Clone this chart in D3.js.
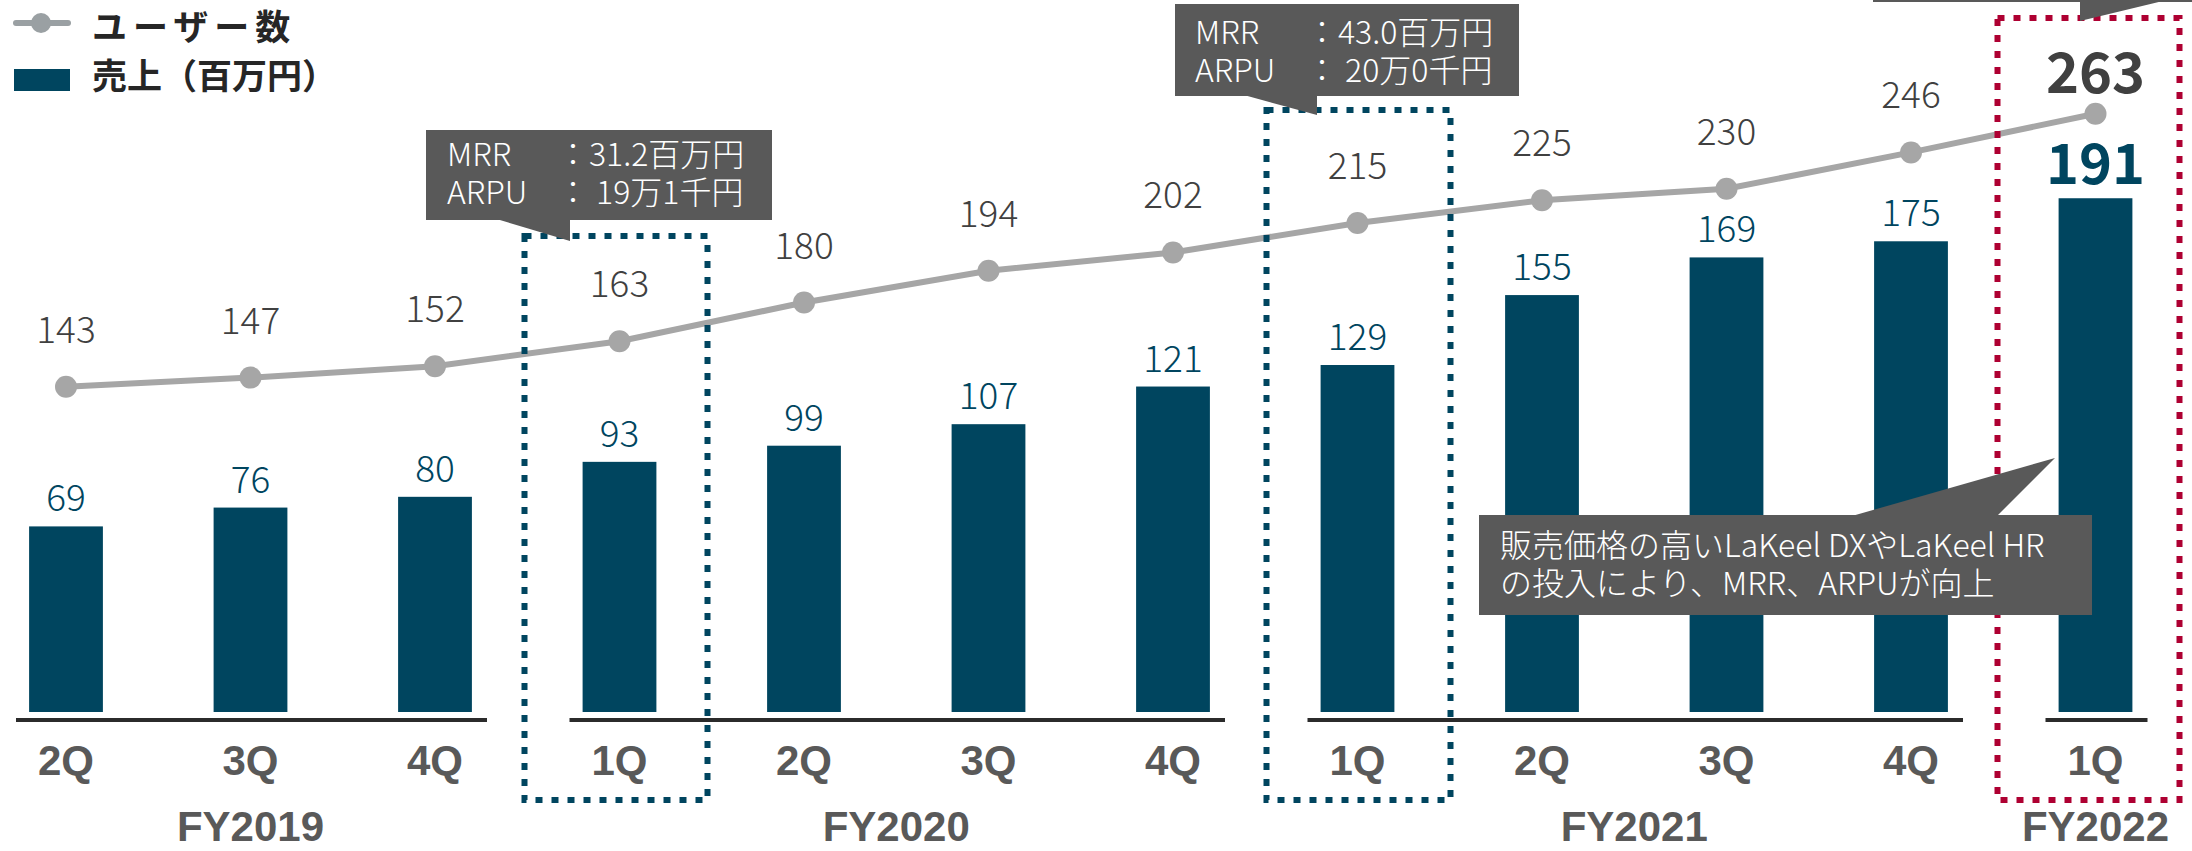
<!DOCTYPE html>
<meta charset="utf-8">
<style>
body { margin: 0; background: #fff; }
svg { display: block; }
.num { font-family: "Noto Sans CJK JP", "Noto Sans", sans-serif; font-weight: 300; }
.tick { font-family: "Liberation Sans Narrow", "Liberation Sans", sans-serif; font-weight: bold; fill: #595959; font-size: 42px; }
.legend { font-family: "Noto Sans CJK JP", sans-serif; font-weight: bold; fill: #262626; font-size: 35px; }
.note { font-family: "Noto Sans CJK JP", sans-serif; font-weight: 300; fill: #fff; font-size: 32px; white-space: pre; }
</style>
<svg width="2192" height="851"></svg>
<script src="https://d3js.org/d3.v7.min.js"></script>
<script>

var quarters = ["2Q","3Q","4Q","1Q","2Q","3Q","4Q","1Q","2Q","3Q","4Q","1Q"];
var fiscal   = ["FY2019","FY2019","FY2019","FY2020","FY2020","FY2020","FY2020","FY2021","FY2021","FY2021","FY2021","FY2022"];
var years    = ["FY2019","FY2020","FY2021","FY2022"];
var users    = [143,147,152,163,180,194,202,215,225,230,246,263];
var sales    = [69,76,80,93,99,107,121,129,155,169,175,191];

var note1 = [["MRR","：31.2百万円"],["ARPU","： 19万1千円"]];
var note2 = [["MRR","：43.0百万円"],["ARPU","： 20万0千円"]];
var note3 = ["販売価格の高いLaKeel DXやLaKeel HR","の投入により、MRR、ARPUが向上"];

var barColor = "#00455f",
    lineColor = "#a6a6a6",
    boxBlue = "#00455f",
    boxRed = "#ae0032",
    noteFill = "#595959";

var svg = d3.select("svg");

var keys = quarters.map(function(q,i){ return fiscal[i] + " " + q; });
var last = keys.length - 1;

var x = d3.scaleBand().domain(keys)
    .range([-26.25, 2187.75])
    .paddingInner(0.6)
    .paddingOuter(0.3);
var ySales = d3.scaleLinear().domain([0, 264.7]).range([712, 0]);
var yUsers = d3.scaleLinear().domain([0, 313]).range([712, 0]);

function cx(i) { return x(keys[i]) + x.bandwidth()/2; }

// bars
svg.append("g").selectAll("rect")
    .data(sales).enter().append("rect")
    .attr("x", function(d,i){ return x(keys[i]); })
    .attr("y", function(d){ return ySales(d); })
    .attr("width", x.bandwidth())
    .attr("height", function(d){ return ySales(0) - ySales(d); })
    .attr("fill", barColor);

svg.append("g").selectAll("text")
    .data(sales).enter().append("text")
    .attr("class", "num")
    .attr("text-anchor", "middle")
    .attr("x", function(d,i){ return cx(i); })
    .attr("y", function(d,i){ return ySales(d) - (i == last ? 14 : 15); })
    .attr("fill", barColor)
    .style("font-size", function(d,i){ return i == last ? "56px" : "37px"; })
    .style("font-weight", function(d,i){ return i == last ? "bold" : null; })
    .text(function(d){ return d; });

// axis line, broken per fiscal year
var axis = svg.append("g");
years.forEach(function(y){
    var idx = d3.range(keys.length).filter(function(i){ return fiscal[i] == y; });
    var a = cx(idx[0]) - 50, b = cx(idx[idx.length-1]) + 52;
    axis.append("line")
        .attr("x1", a).attr("x2", b)
        .attr("y1", 720).attr("y2", 720)
        .attr("stroke", "#2b2b2b").attr("stroke-width", 4);
    axis.append("text").attr("class","tick")
        .attr("text-anchor","middle")
        .attr("x", (cx(idx[0]) + cx(idx[idx.length-1]))/2)
        .attr("y", 841)
        .text(y);
});
axis.selectAll("text.q")
    .data(quarters).enter().append("text")
    .attr("class","tick q")
    .attr("text-anchor","middle")
    .attr("x", function(d,i){ return cx(i); })
    .attr("y", 775)
    .text(function(d){ return d; });

// user line
var line = d3.line()
    .x(function(d,i){ return cx(i); })
    .y(function(d){ return yUsers(d); });

svg.append("path")
    .datum(users)
    .attr("d", line)
    .attr("fill","none")
    .attr("stroke", lineColor)
    .attr("stroke-width", 6);

svg.append("g").selectAll("circle")
    .data(users).enter().append("circle")
    .attr("cx", function(d,i){ return cx(i); })
    .attr("cy", function(d){ return yUsers(d); })
    .attr("r", 11)
    .attr("fill", lineColor);

svg.append("g").selectAll("text")
    .data(users).enter().append("text")
    .attr("class","num")
    .attr("text-anchor","middle")
    .attr("x", function(d,i){ return cx(i); })
    .attr("y", function(d,i){ return yUsers(d) - (i == last ? 21 : 44); })
    .attr("fill", "#404040")
    .style("font-size", function(d,i){ return i == last ? "56px" : "37px"; })
    .style("font-weight", function(d,i){ return i == last ? "bold" : null; })
    .text(function(d){ return d; });

// highlight boxes
function box(i, top, color, dl, dr) {
    var c = cx(i);
    svg.append("rect")
        .attr("x", c - dl).attr("y", top)
        .attr("width", dl + dr).attr("height", 800 - top)
        .attr("fill","none")
        .attr("stroke", color)
        .attr("stroke-width", 6)
        .attr("stroke-dasharray", "7 9");
}
box(3, 236, boxBlue, 95, 88);
box(7, 110, boxBlue, 91, 93);
box(11, 18, boxRed, 98, 84);

// callouts
function callout(r, ptr) {
    var g = svg.append("g");
    g.append("path")
        .attr("d", "M" + ptr.join("L") + "Z")
        .attr("fill", noteFill);
    g.append("rect")
        .attr("x", r[0]).attr("y", r[1])
        .attr("width", r[2]).attr("height", r[3])
        .attr("fill", noteFill);
    return g;
}
function tableNote(g, rows, x0, x1, y0, dy) {
    rows.forEach(function(r, j){
        g.append("text").attr("class","note").attr("x", x0).attr("y", y0 + j*dy).text(r[0]);
        g.append("text").attr("class","note").attr("x", x1).attr("y", y0 + j*dy).text(r[1]);
    });
}

var c1 = callout([426,130,346,90], [[483,215],[570,215],[570,241]]);
tableNote(c1, note1, 447, 557, 166, 38);

var c2 = callout([1175,4,344,92], [[1233,92],[1317,92],[1317,115]]);
tableNote(c2, note2, 1195, 1306, 44, 38);

callout([1873,-60,330,62], [[2080,0],[2080,21],[2167,0]]);

var c4 = callout([1479,515,613,100], [[1838,520],[2055,458],[1993,520]]);
note3.forEach(function(t, j){
    c4.append("text").attr("class","note").attr("x", 1500).attr("y", 557 + j*38).text(t);
});

// legend
var lg = svg.append("g");
lg.append("line").attr("x1",16).attr("x2",68).attr("y1",23).attr("y2",23)
    .attr("stroke","#9aa0a3").attr("stroke-width",6).attr("stroke-linecap","round");
lg.append("circle").attr("cx",41).attr("cy",23).attr("r",10).attr("fill","#9aa0a3");
lg.append("rect").attr("x",14).attr("y",69).attr("width",56).attr("height",22).attr("fill",barColor);
lg.append("text").attr("class","legend").attr("x",92).attr("y",40)
    .style("letter-spacing","6px").text("ユーザー数");
lg.append("text").attr("class","legend").attr("x",92).attr("y",89).text("売上（百万円）");

</script>
